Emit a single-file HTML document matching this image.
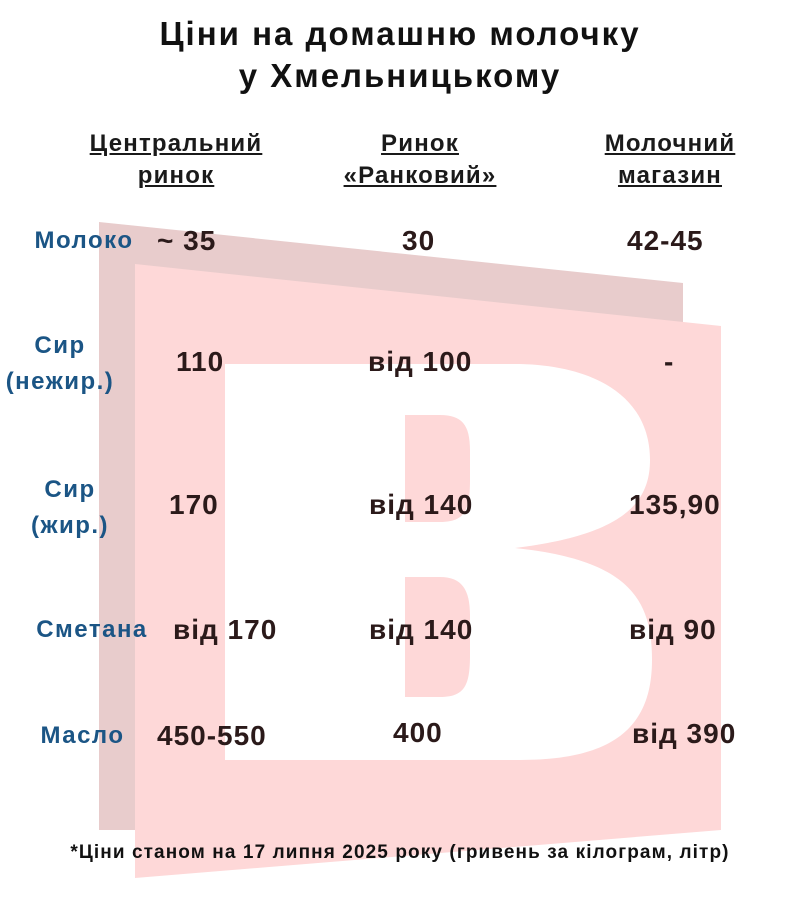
<!DOCTYPE html>
<html><head><meta charset="utf-8"><style>
body{margin:0;width:800px;height:911px;background:#fff;overflow:hidden;position:relative;font-family:"Liberation Sans","DejaVu Sans",sans-serif;font-weight:bold}
.t{position:absolute;white-space:nowrap}
.h{color:#111;font-size:33px;letter-spacing:2px;text-align:center;width:800px;left:0}
.c{color:#1a1a1a;font-size:24px;letter-spacing:1.2px;text-align:center;text-decoration:underline;line-height:32px}
.l{color:#1b5585;font-size:24px;letter-spacing:1.5px;text-align:center;line-height:36px}
.v{color:#2b1a1a;font-size:28px;letter-spacing:1px}
</style></head><body>
<svg width="800" height="911" style="position:absolute;left:0;top:0">
<polygon points="99,222 683,283 683,830 99,830" fill="#e8cccc"/>
<polygon points="135,264 721,326 721,830 135,878" fill="#fed8d8"/>
<path fill="#fff" d="M225,364 L520,364 C600,366 650,400 650,460 C650,505 620,535 515,548 C630,560 652,600 652,660 C652,730 610,760 520,760 L225,760 Z M405,415 L405,522 L440,522 C465,522 470,510 470,480 L470,450 C470,425 462,415 440,415 Z M405,577 L405,697 L440,697 C465,697 470,685 470,655 L470,615 C470,590 462,577 440,577 Z"/>
</svg>
<div class="t h" style="top:13px;line-height:42px">Ціни на домашню молочку<br>у Хмельницькому</div>
<div class="t c" style="left:76px;width:200px;top:128px">Центральний<br>ринок</div>
<div class="t c" style="left:320px;width:200px;top:128px">Ринок<br>«Ранковий»</div>
<div class="t c" style="left:570px;width:200px;top:128px">Молочний<br>магазин</div>
<div class="t l" style="left:14px;width:140px;top:223px">Молоко</div>
<div class="t l" style="left:0px;width:120px;top:328px">Сир<br>(нежир.)</div>
<div class="t l" style="left:10px;width:120px;top:472px">Сир<br>(жир.)</div>
<div class="t l" style="left:22px;width:140px;top:612px">Сметана</div>
<div class="t l" style="left:20px;width:125px;top:718px">Масло</div>
<div class="t v" style="left:157px;top:225px">~ 35</div>
<div class="t v" style="left:176px;top:346px">110</div>
<div class="t v" style="left:169px;top:489px">170</div>
<div class="t v" style="left:173px;top:614px">від 170</div>
<div class="t v" style="left:157px;top:720px">450-550</div>
<div class="t v" style="left:402px;top:225px">30</div>
<div class="t v" style="left:368px;top:346px">від 100</div>
<div class="t v" style="left:369px;top:489px">від 140</div>
<div class="t v" style="left:369px;top:614px">від 140</div>
<div class="t v" style="left:393px;top:717px">400</div>
<div class="t v" style="left:627px;top:225px">42-45</div>
<div class="t v" style="left:664px;top:346px">-</div>
<div class="t v" style="left:629px;top:489px">135,90</div>
<div class="t v" style="left:629px;top:614px">від 90</div>
<div class="t v" style="left:632px;top:718px">від 390</div>
<div class="t" style="left:0;width:800px;text-align:center;top:842px;font-size:19px;letter-spacing:1.1px;color:#111">*Ціни станом на 17 липня 2025 року (гривень за кілограм, літр)</div>
</body></html>
